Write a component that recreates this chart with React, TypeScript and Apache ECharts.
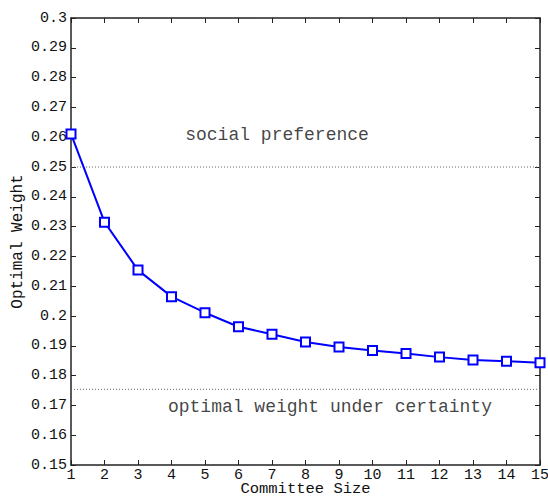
import React, { useEffect, useRef } from "react";
import * as echarts from "echarts";

const committeeSizes = [1, 2, 3, 4, 5, 6, 7, 8, 9, 10, 11, 12, 13, 14, 15];
const optimalWeights = [0.2611, 0.2315, 0.2154, 0.2065, 0.2011, 0.1964, 0.1939, 0.1913, 0.1896, 0.1884, 0.1874, 0.1862, 0.1852, 0.1848, 0.1843];
const socialPreference = 0.25;
const certaintyWeight = 0.1754;
const xRange = [1, 15];
const yRange = [0.15, 0.3];
const annotations = [
  { text: "social preference", x: 7.15, y: 0.2607 },
  { text: "optimal weight under certainty", x: 8.73, y: 0.1695 },
];

const FONT = "'Liberation Mono', 'DejaVu Sans Mono', monospace";
const AXIS = "#222";

export default function App() {
  const ref = useRef<HTMLDivElement>(null);
  useEffect(() => {
    const chart = echarts.init(ref.current!, null, { renderer: "svg" });
    const fmt = (v: number) => String(parseFloat(v.toFixed(2)));
    const baseAxisLine = { show: true, onZero: false, lineStyle: { color: AXIS, width: 1.5 } };
    const baseTick = { show: true, inside: true, length: 5, lineStyle: { color: AXIS, width: 1 } };
    chart.setOption({
      animation: false,
      backgroundColor: "#fff",
      grid: { left: 71, right: 8, top: 18, bottom: 31, containLabel: false, outerBoundsMode: "none" },
      xAxis: [
        {
          type: "value",
          min: xRange[0],
          max: xRange[1],
          interval: 1,
          name: "Committee Size",
          nameLocation: "middle",
          nameGap: 16,
          nameMoveOverlap: false,
          nameTextStyle: { fontFamily: FONT, fontSize: 15.5, lineHeight: 15, color: "#111" },
          axisLine: baseAxisLine,
          axisTick: baseTick,
          axisLabel: { fontFamily: FONT, fontSize: 15, lineHeight: 13, color: "#111", margin: 4 },
          splitLine: { show: false },
        },
        {
          type: "value",
          position: "top",
          min: xRange[0],
          max: xRange[1],
          interval: 1,
          axisLine: baseAxisLine,
          axisTick: baseTick,
          axisLabel: { show: false },
          splitLine: { show: false },
        },
      ],
      yAxis: [
        {
          type: "value",
          min: yRange[0],
          max: yRange[1],
          interval: 0.01,
          name: "Optimal Weight",
          nameLocation: "middle",
          nameGap: 45,
          nameMoveOverlap: false,
          nameTextStyle: { fontFamily: FONT, fontSize: 16, color: "#111" },
          axisLine: baseAxisLine,
          axisTick: baseTick,
          axisLabel: { fontFamily: FONT, fontSize: 15, color: "#111", margin: 4, formatter: fmt },
          splitLine: { show: false },
        },
        {
          type: "value",
          position: "right",
          min: yRange[0],
          max: yRange[1],
          interval: 0.01,
          axisLine: baseAxisLine,
          axisTick: baseTick,
          axisLabel: { show: false },
          splitLine: { show: false },
        },
      ],
      series: [
        {
          type: "line",
          data: [[xRange[0], socialPreference], [xRange[1], socialPreference]],
          symbol: "none",
          lineStyle: { color: "#666", width: 1, type: [1, 2] },
          silent: true,
        },
        {
          type: "line",
          data: [[xRange[0], certaintyWeight], [xRange[1], certaintyWeight]],
          symbol: "none",
          lineStyle: { color: "#666", width: 1, type: [1, 2] },
          silent: true,
        },
        {
          type: "line",
          data: committeeSizes.map((x, i) => [x, optimalWeights[i]]),
          symbol: "rect",
          symbolSize: 9,
          lineStyle: { color: "#0000ff", width: 2 },
          itemStyle: { color: "#fff", borderColor: "#0000ff", borderWidth: 2 },
          z: 5,
        },
        {
          type: "scatter",
          data: annotations.map((a) => ({ value: [a.x, a.y], name: a.text })),
          symbolSize: 0,
          label: {
            show: true,
            position: "inside",
            formatter: (p: any) => p.name,
            fontFamily: FONT,
            fontSize: 18,
            color: "#111",
          },
          silent: true,
        },
      ],
    });
    return () => chart.dispose();
  }, []);
  return (
    <div
      ref={ref}
      style={{ position: "fixed", left: 0, top: 0, width: 548, height: 496 }}
    />
  );
}
